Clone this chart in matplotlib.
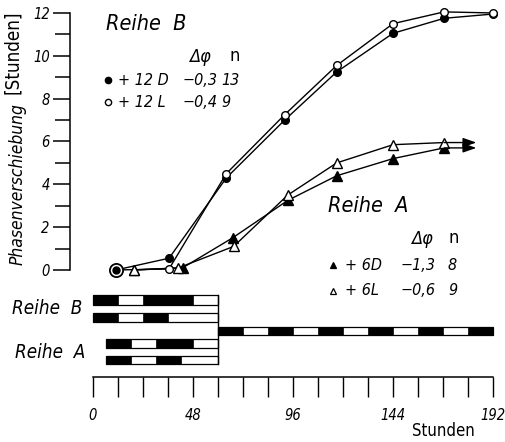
import os
import numpy as np
import matplotlib.pyplot as plt
from matplotlib import font_manager
from matplotlib.font_manager import FontProperties

# schmale Schrift suchen (wie die Normschrift im Original)
stems_it = ['LiberationSansNarrow-Italic', 'NotoSans-CondensedItalic',
            'DejaVuSansCondensed-Oblique', 'RobotoCondensed-Italic',
            'OpenSans_Condensed-Italic', 'OpenSans-CondensedItalic']
stems_up = ['LiberationSansNarrow-Regular', 'NotoSans-Condensed',
            'DejaVuSansCondensed', 'RobotoCondensed-Regular',
            'OpenSans_Condensed-Regular', 'OpenSans-Condensed']
files = {os.path.splitext(os.path.basename(f.fname))[0]: f.fname
         for f in font_manager.fontManager.ttflist}
f_it = next((files[s] for s in stems_it if s in files), None)
f_up = next((files[s] for s in stems_up if s in files), None)
narrow = f_it is not None and f_up is not None
k = 1.0 if narrow else 0.82


def fp(size, italic=True):
    if narrow:
        return FontProperties(fname=f_it if italic else f_up, size=size * k)
    return FontProperties(family='DejaVu Sans', style='italic' if italic else 'normal',
                          size=size * k)


# Reihe B: +12 D (gefuellte Kreise), +12 L (offene Kreise)
b_dark_x = [11, 36.5, 64, 92, 117, 144, 168.5, 192]
b_dark_y = [0, 0.55, 4.3, 7.0, 9.25, 11.05, 11.75, 11.95]
b_light_x = [11, 36.5, 64, 92, 117, 144, 168.5, 192]
b_light_y = [0, 0.05, 4.5, 7.25, 9.55, 11.5, 12.05, 12.0]

# Reihe A: +6 D (gefuellte Dreiecke), +6 L (offene Dreiecke)
a_dark_x = [19.5, 43, 67, 93.5, 117, 144, 168.5]
a_dark_y = [0, 0.1, 1.5, 3.25, 4.4, 5.2, 5.7]
a_light_x = [19.5, 41, 67.5, 93.5, 117, 144, 168.5]
a_light_y = [0, 0.1, 1.1, 3.5, 5.0, 5.85, 5.95]
arrow_end = 184

# Legende
b_rows = [("+ 12 D", "\u22120,3", "13"), ("+ 12 L", "\u22120,4", "9")]
a_rows = [("+ 6D", "\u22121,3", "8"), ("+ 6L", "\u22120,6", "9")]

# Licht-Dunkel-Programme (Dunkelzeiten in Stunden)
sched_start = [0, 0, 60, 6, 6]
sched_end = [60, 60, 192, 60, 60]
sched_dark = [
    [(0, 12), (24, 48)],
    [(0, 12), (24, 36)],
    [(60, 72), (84, 96), (108, 120), (132, 144), (156, 168), (180, 192)],
    [(6, 18), (30, 48)],
    [(6, 18), (30, 42)],
]

x_major = [0, 48, 96, 144, 192]
x_minor = list(range(0, 193, 12))
y_major = list(range(0, 13, 2))
y_minor = list(range(1, 12, 2))

fig = plt.figure(figsize=(5.06, 4.42), dpi=100)
ax = fig.add_axes([0, 0, 1, 1])
ax.set_xlim(-44.64, 198.24)
ax.set_ylim(-8.03, 12.605)

for s in ['top', 'right']:
    ax.spines[s].set_visible(False)
ax.spines['left'].set_position(('data', -11))
ax.spines['left'].set_bounds(0, 12)
ax.spines['bottom'].set_position(('data', -5.0))
ax.spines['bottom'].set_bounds(0, 192)
for s in ['left', 'bottom']:
    ax.spines[s].set_linewidth(1.1)

ax.set_yticks(y_major)
ax.set_yticks(y_minor, minor=True)
ax.set_xticks(x_major)
ax.set_xticks(x_minor, minor=True)
ax.tick_params(axis='y', which='major', length=12.2, width=1.1, pad=2.5)
ax.tick_params(axis='y', which='minor', length=11, width=1.1)
ax.tick_params(axis='x', which='both', length=14.4, width=1.0, pad=8)
for lab in ax.get_yticklabels():
    lab.set_fontproperties(fp(10.5))
for lab in ax.get_xticklabels():
    lab.set_fontproperties(fp(10.5))

# Kurven
series = [(b_dark_x, b_dark_y, 'o', 'k', 5.5),
          (b_light_x, b_light_y, 'o', 'white', 5.5),
          (a_dark_x, a_dark_y, '^', 'k', 6.5),
          (a_light_x, a_light_y, '^', 'white', 6.5)]
for x, y, m, fc, ms in series:
    ax.plot(x, y, '-', color='k', lw=1.0, zorder=2)
for x, y, m, fc, ms in series:
    ax.plot(x, y, m, ms=ms, mfc=fc, mec='k', mew=1.0, zorder=3)

# Startpunkt
ax.plot(b_light_x[0], b_light_y[0], 'o', ms=9.5, mfc='white', mec='k', mew=1.3, zorder=4)
ax.plot(b_dark_x[0], b_dark_y[0], 'o', ms=5, mfc='k', mec='k', zorder=5)

# Pfeile am Ende von Reihe A
for x, y in [(a_dark_x, a_dark_y), (a_light_x, a_light_y)]:
    ax.annotate('', xy=(arrow_end, y[-1]), xytext=(x[-1], y[-1]),
                arrowprops=dict(arrowstyle='-|>,head_length=0.8,head_width=0.28',
                                color='k', lw=1.0, shrinkA=0, shrinkB=0))

# Balken
row_y = [-1.40, -2.22, -2.85, -3.43, -4.20]
row_h = [0.44, 0.42, 0.38, 0.42, 0.38]
for yc, h, a, b, dark in zip(row_y, row_h, sched_start, sched_end, sched_dark):
    ax.barh(yc, b - a, left=a, height=h, color='white', edgecolor='k', lw=0.9, zorder=2)
    for d0, d1 in dark:
        ax.barh(yc, d1 - d0, left=d0, height=h, color='k', edgecolor='k', lw=0.5, zorder=3)
ax.plot([sched_end[0]] * 2, [row_y[0] + row_h[0] / 2, row_y[-1] - row_h[-1] / 2],
        color='k', lw=1.0, zorder=4)


def txt(x, y, s, size, italic=True, ha='left', **kw):
    ax.text(x, y, s, fontproperties=fp(size, italic), ha=ha, va='center', **kw)


# Legende Reihe B
txt(25.4, 11.48, "Reihe  B", 15.5, ha='center')
txt(51.4, 9.94, "\u0394\u03c6", 13, ha='center')
txt(68.2, 9.98, "n", 13, italic=False, ha='center')
for (lab, dphi, n), yy, fc in zip(b_rows, [8.87, 7.84], ['k', 'white']):
    ax.plot(7.2, yy, 'o', ms=4.5, mfc=fc, mec='k', mew=1.0)
    txt(12, yy, lab, 11.5)
    txt(43.2, yy, dphi, 11.5)
    txt(61.4, yy, n, 11.5)

# Legende Reihe A
txt(132, 2.99, "Reihe  A", 15.5, ha='center')
txt(158, 1.45, "\u0394\u03c6", 13, ha='center')
txt(173.3, 1.49, "n", 13, italic=False, ha='center')
for (lab, dphi, n), yy, fc in zip(a_rows, [0.23, -0.98], ['k', 'white']):
    ax.plot(115.2, yy, '^', ms=5, mfc=fc, mec='k', mew=0.9)
    txt(121, yy, lab, 11.5)
    txt(147.4, yy, dphi, 11.5)
    txt(170.4, yy, n, 11.5)

txt(-22.1, -1.78, "Reihe  B", 13.5, ha='center')
txt(-20.6, -3.83, "Reihe  A", 13.5, ha='center')
txt(168, -7.52, "Stunden", 12, italic=False, ha='center')

# Achsenbeschriftung y
txt(-36.3, 4.0, "Phasenverschiebung", 12.5 if narrow else 10, ha='center', rotation=90)
txt(-38.6, 10.15, "[Stunden]", 13.5 if narrow else 11, italic=False, ha='center',
    rotation=90)

fig.savefig('out.png', dpi=100)
